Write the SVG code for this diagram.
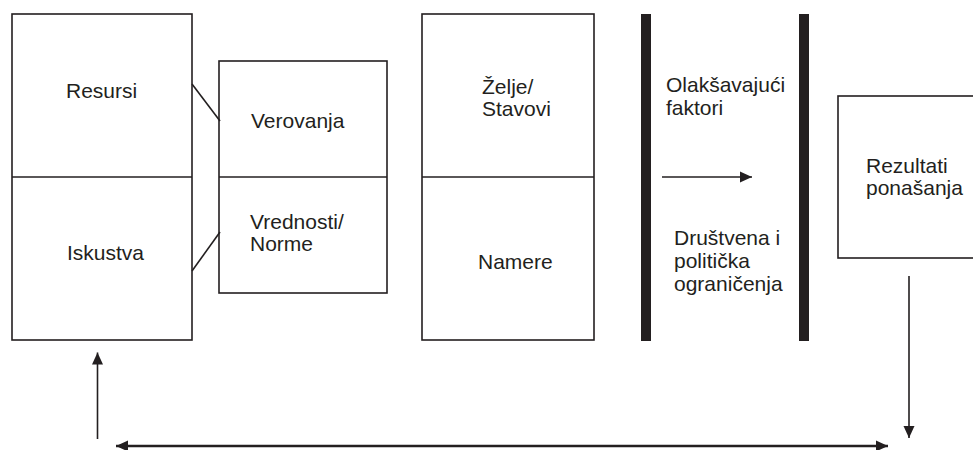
<svg xmlns="http://www.w3.org/2000/svg" width="973" height="450" viewBox="0 0 973 450">
<style>
.box{fill:#fff;stroke:#231f20;stroke-width:1.6}
.div{stroke:#231f20;stroke-width:1.6}
.bar{fill:#231f20}
.lbl{font-family:"Liberation Sans",Arial,sans-serif;font-size:21px;fill:#231f20}
.con{stroke:#231f20;stroke-width:1.6;fill:none}
.con2{stroke:#231f20;stroke-width:2.6;fill:none}
</style>
<defs>
<marker id="ah" markerUnits="userSpaceOnUse" markerWidth="14" markerHeight="14" refX="12" refY="6" orient="auto">
<path d="M0,0.5 L12,6 L0,11.5 Z" fill="#231f20"/>
</marker>
<marker id="ahs" markerUnits="userSpaceOnUse" markerWidth="14" markerHeight="14" refX="12" refY="6" orient="auto-start-reverse">
<path d="M0,0.5 L12,6 L0,11.5 Z" fill="#231f20"/>
</marker>
</defs>
<rect width="973" height="450" fill="#fff"/>
<g id="n-resursi-iskustva">
<rect class="box" x="12" y="14" width="180" height="326"/>
<line class="div" x1="12" y1="177" x2="192" y2="177"/>
<text class="lbl" x="66" y="98">Resursi</text>
<text class="lbl" x="67" y="260">Iskustva</text>
</g>
<g id="n-verovanja-vrednosti">
<rect class="box" x="219" y="61" width="168" height="232"/>
<line class="div" x1="219" y1="177" x2="387" y2="177"/>
<text class="lbl" x="251" y="128">Verovanja</text>
<text class="lbl" x="250" y="229">Vrednosti/</text>
<text class="lbl" x="250" y="251">Norme</text>
</g>
<g id="n-zelje-namere">
<rect class="box" x="422" y="14" width="172" height="326"/>
<line class="div" x1="422" y1="177" x2="594" y2="177"/>
<text class="lbl" x="482" y="94">Želje/</text>
<text class="lbl" x="482" y="116">Stavovi</text>
<text class="lbl" x="478" y="269">Namere</text>
</g>
<g id="n-faktori">
<rect class="bar" x="641" y="14" width="10" height="327"/>
<rect class="bar" x="799" y="14" width="10" height="327"/>
<text class="lbl" x="666" y="92">Olakšavajući</text>
<text class="lbl" x="666" y="115">faktori</text>
<text class="lbl" x="674" y="245">Društvena i</text>
<text class="lbl" x="674" y="268">politička</text>
<text class="lbl" x="674" y="291">ograničenja</text>
</g>
<g id="n-rezultati">
<rect class="box" x="838" y="96" width="145" height="162"/>
<text class="lbl" x="866" y="173">Rezultati</text>
<text class="lbl" x="866" y="195">ponašanja</text>
</g>
<g id="connectors">
<line class="con" x1="192" y1="84" x2="220" y2="121"/>
<line class="con" x1="192" y1="271" x2="220" y2="232"/>
<line class="con" x1="662" y1="177" x2="752" y2="177" marker-end="url(#ah)"/>
<line class="con" x1="909" y1="276" x2="909" y2="438" marker-end="url(#ah)"/>
<line class="con" x1="97.5" y1="439" x2="97.5" y2="352.5" marker-end="url(#ah)"/>
<line class="con2" x1="116" y1="446" x2="888" y2="446" marker-start="url(#ahs)" marker-end="url(#ahs)"/>
</g>
</svg>
